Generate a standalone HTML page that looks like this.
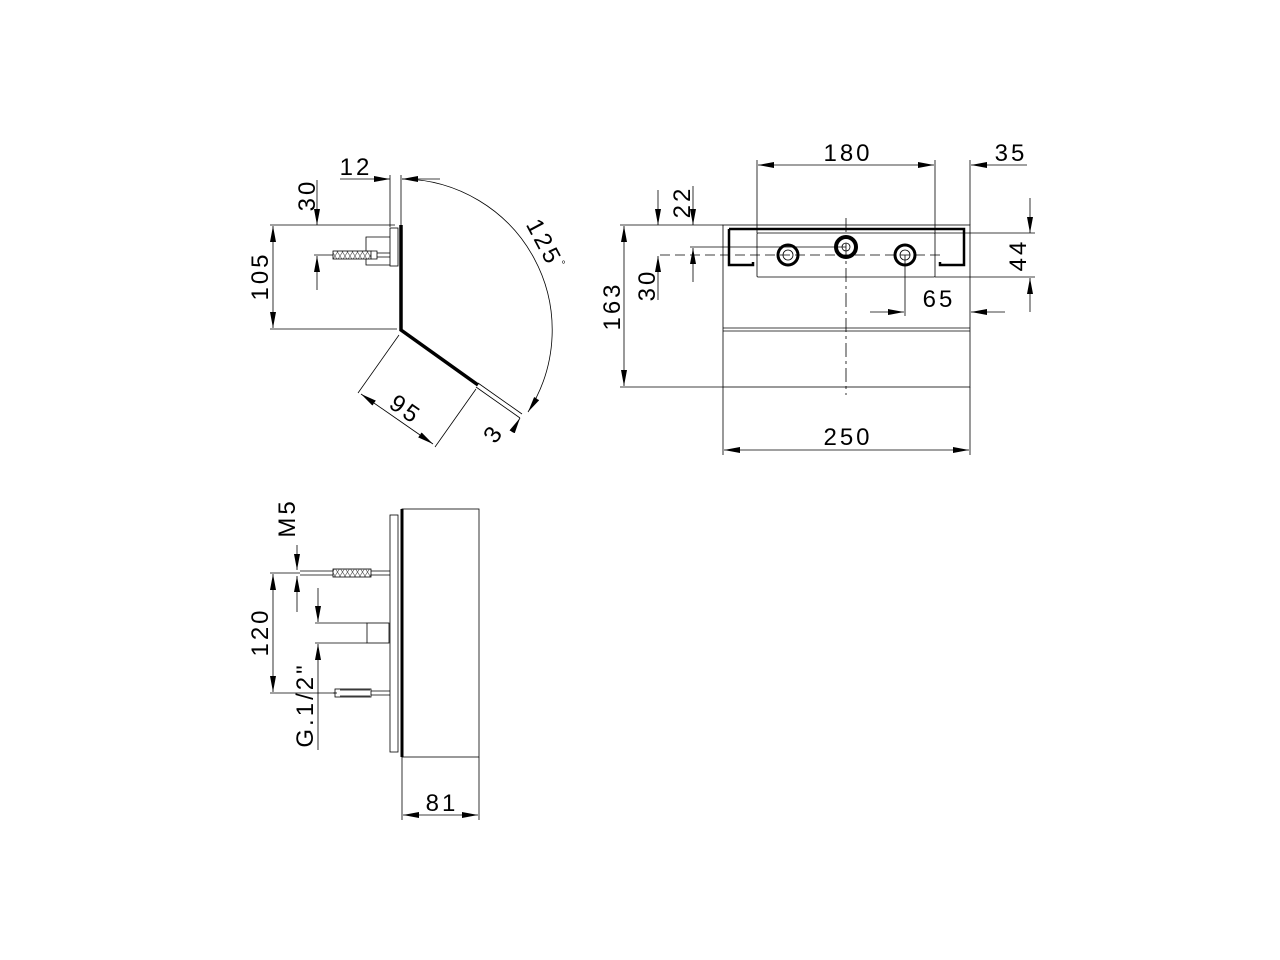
<!DOCTYPE html>
<html><head><style>
html,body{margin:0;padding:0;background:#fff;}
svg{display:block;}
text{font-family:"Liberation Sans",sans-serif;font-size:24px;fill:#000;letter-spacing:3px;text-anchor:middle;}
</style></head><body>
<svg width="1280" height="960" viewBox="0 0 1280 960" xmlns="http://www.w3.org/2000/svg">
<defs>
<marker id="a" viewBox="0 0 16 6" refX="16" refY="3" markerWidth="16" markerHeight="6" markerUnits="userSpaceOnUse" orient="auto">
<path d="M0,0 L16,3 L0,6 z" fill="#000"/></marker>
<pattern id="rib" width="5" height="8" patternUnits="userSpaceOnUse"><rect width="5" height="8" fill="#fff"/><path d="M0,0 L5,8 M5,0 L0,8" stroke="#555" stroke-width="0.6"/></pattern>
</defs>
<g stroke="#000" stroke-width="0.8" fill="none">

<!-- ===== VIEW 1 ===== -->
<line x1="390" y1="175" x2="390" y2="227"/>
<line x1="401" y1="175" x2="401" y2="225"/>
<line x1="340" y1="179" x2="390" y2="179" marker-end="url(#a)"/>
<line x1="440" y1="179" x2="402" y2="179" marker-end="url(#a)"/>
<path d="M402,179 A151,151 0 0 1 528,412" marker-end="url(#a)"/>
<line x1="512" y1="432" x2="520" y2="418" marker-end="url(#a)"/>
<path d="M401,225 L401,330 L478,385" stroke-width="3.5"/>
<path d="M478,383 L522,414 M476,387 L520,418"/>
<line x1="317" y1="180" x2="317" y2="225" marker-end="url(#a)"/>
<line x1="317" y1="290" x2="317" y2="256" marker-end="url(#a)"/>
<line x1="270" y1="225" x2="395" y2="225"/>
<line x1="270" y1="329" x2="397" y2="329"/>
<line x1="273" y1="277" x2="273" y2="226" marker-end="url(#a)"/>
<line x1="273" y1="277" x2="273" y2="328" marker-end="url(#a)"/>
<rect x="390" y="228" width="8" height="38"/>
<path d="M390,237 L366,237 L366,265 L390,265"/>
<line x1="314" y1="255" x2="333" y2="255"/>
<rect x="333" y="251" width="38" height="8" fill="url(#rib)"/>
<path d="M371,251 L377,251 L377,259 L371,259 M377,253 L390,253 M377,257 L390,257"/>
<line x1="399" y1="335" x2="358" y2="393"/>
<line x1="476" y1="389" x2="435" y2="447"/>
<line x1="397" y1="419" x2="361" y2="394" marker-end="url(#a)"/>
<line x1="397" y1="419" x2="433" y2="444" marker-end="url(#a)"/>

<!-- ===== VIEW 2 ===== -->
<rect x="723" y="225" width="247" height="162"/>
<line x1="723" y1="328" x2="970" y2="328"/>
<line x1="723" y1="331" x2="970" y2="331"/>
<path d="M729,229 L964,229 L964,265 L940,265 L940,262 M729,229 L729,265 L753,265 L753,262" stroke-width="2.5"/>
<rect x="757" y="233" width="178" height="44" rx="1"/>
<line x1="660" y1="255" x2="940" y2="255" stroke-dasharray="10,5"/>
<line x1="846" y1="218" x2="846" y2="395" stroke-dasharray="14,4,3,4"/>
<line x1="690" y1="247" x2="846" y2="247"/>
<circle cx="788" cy="255" r="10" stroke-width="3"/>
<circle cx="788" cy="255" r="5"/>
<circle cx="905" cy="255" r="10" stroke-width="3"/>
<circle cx="905" cy="255" r="5"/>
<circle cx="846" cy="247" r="10" stroke-width="4"/>
<circle cx="846" cy="247" r="4"/>
<line x1="757" y1="160" x2="757" y2="233"/>
<line x1="935" y1="160" x2="935" y2="233"/>
<line x1="970" y1="160" x2="970" y2="225"/>
<line x1="846" y1="165" x2="758" y2="165" marker-end="url(#a)"/>
<line x1="846" y1="165" x2="934" y2="165" marker-end="url(#a)"/>
<line x1="1027" y1="165" x2="971" y2="165" marker-end="url(#a)"/>
<line x1="693" y1="186" x2="693" y2="225" marker-end="url(#a)"/>
<line x1="693" y1="282" x2="693" y2="248" marker-end="url(#a)"/>
<line x1="658" y1="190" x2="658" y2="225" marker-end="url(#a)"/>
<line x1="658" y1="300" x2="658" y2="256" marker-end="url(#a)"/>
<line x1="620" y1="225" x2="723" y2="225"/>
<line x1="620" y1="387" x2="723" y2="387"/>
<line x1="624" y1="306" x2="624" y2="226" marker-end="url(#a)"/>
<line x1="624" y1="306" x2="624" y2="386" marker-end="url(#a)"/>
<line x1="935" y1="233" x2="1035" y2="233"/>
<line x1="935" y1="277" x2="1035" y2="277"/>
<line x1="1030" y1="198" x2="1030" y2="233" marker-end="url(#a)"/>
<line x1="1030" y1="312" x2="1030" y2="278" marker-end="url(#a)"/>
<line x1="905" y1="255" x2="905" y2="316"/>
<line x1="870" y1="312" x2="904" y2="312" marker-end="url(#a)"/>
<line x1="1005" y1="312" x2="971" y2="312" marker-end="url(#a)"/>
<line x1="723" y1="387" x2="723" y2="455"/>
<line x1="970" y1="387" x2="970" y2="455"/>
<line x1="846" y1="450" x2="724" y2="450" marker-end="url(#a)"/>
<line x1="846" y1="450" x2="969" y2="450" marker-end="url(#a)"/>

<!-- ===== VIEW 3 ===== -->
<rect x="402" y="509" width="77" height="248"/>
<line x1="402" y1="509" x2="402" y2="757" stroke-width="3"/>
<rect x="390" y="515" width="8" height="237"/>
<line x1="300" y1="571" x2="333" y2="571"/>
<line x1="300" y1="575" x2="333" y2="575"/>
<rect x="333" y="569" width="38" height="8" fill="url(#rib)"/>
<path d="M371,571 L390,571 M371,575 L390,575"/>
<line x1="333" y1="693" x2="337" y2="693"/>
<rect x="335" y="689" width="36" height="8"/>
<path d="M340,690 L370,690 M340,696 L370,696 M371,691 L390,691 M371,695 L390,695"/>
<rect x="367" y="623" width="22" height="20"/>
<line x1="315" y1="623" x2="367" y2="623"/>
<line x1="315" y1="643" x2="367" y2="643"/>
<line x1="297" y1="545" x2="297" y2="570" marker-end="url(#a)"/>
<line x1="297" y1="612" x2="297" y2="576" marker-end="url(#a)"/>
<line x1="270" y1="573" x2="300" y2="573"/>
<line x1="270" y1="693" x2="335" y2="693"/>
<line x1="273" y1="633" x2="273" y2="574" marker-end="url(#a)"/>
<line x1="273" y1="633" x2="273" y2="692" marker-end="url(#a)"/>
<line x1="318" y1="588" x2="318" y2="622" marker-end="url(#a)"/>
<line x1="318" y1="750" x2="318" y2="644" marker-end="url(#a)"/>
<line x1="402" y1="757" x2="402" y2="820"/>
<line x1="479" y1="757" x2="479" y2="820"/>
<line x1="440" y1="815" x2="403" y2="815" marker-end="url(#a)"/>
<line x1="440" y1="815" x2="478" y2="815" marker-end="url(#a)"/>
</g>

<text x="356" y="175">12</text>
<text transform="translate(315,195) rotate(-90)">30</text>
<text transform="translate(268,276) rotate(-90)">105</text>
<text transform="translate(537,246) rotate(62)">125</text>
<text x="565" y="268" style="font-size:10px">°</text>
<text transform="translate(401,416) rotate(35)">95</text>
<text transform="translate(500,438) rotate(-55)">3</text>

<text x="848" y="161">180</text>
<text x="1011" y="161">35</text>
<text transform="translate(690,202) rotate(-90)">22</text>
<text transform="translate(655,285) rotate(-90)">30</text>
<text transform="translate(620,306) rotate(-90)">163</text>
<text transform="translate(1026,255) rotate(-90)">44</text>
<text x="939" y="307">65</text>
<text x="848" y="445">250</text>

<text transform="translate(295,518) rotate(-90)">M5</text>
<text transform="translate(268,632) rotate(-90)">120</text>
<text transform="translate(313,705) rotate(-90)">G.1/2"</text>
<text x="442" y="811">81</text>
</svg>
</body></html>
